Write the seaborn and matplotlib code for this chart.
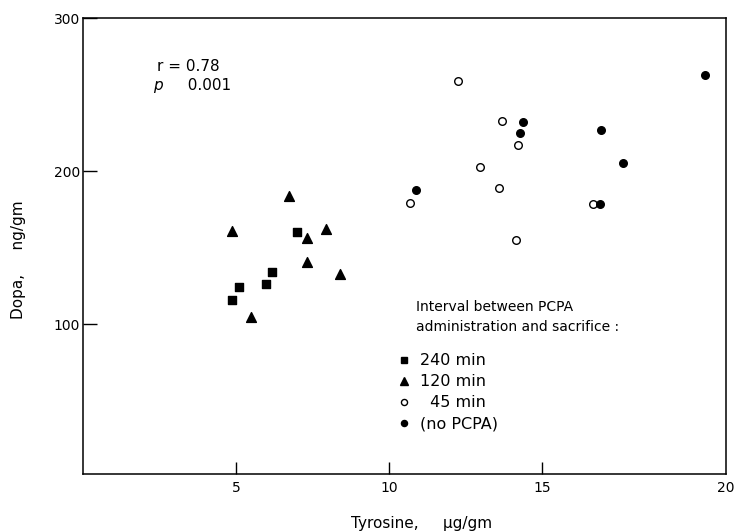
import numpy as np
import pandas as pd
import matplotlib
matplotlib.use("Agg")
import matplotlib.pyplot as plt
import seaborn as sns
from matplotlib.lines import Line2D

# Data (tyrosine ug/gm, dopa ng/gm)
tyr_240 = [6.99, 6.19, 6.00, 5.09, 4.89]
dopa_240 = [160.3, 134.0, 126.1, 124.6, 115.9]

tyr_120 = [6.74, 4.88, 7.31, 7.95, 7.33, 8.41, 5.49]
dopa_120 = [184.1, 161.0, 156.6, 162.3, 140.5, 132.7, 105.0]

tyr_45 = [12.26, 13.71, 14.23, 12.98, 13.58, 10.70, 14.15, 16.67]
dopa_45 = [259.2, 232.9, 217.2, 202.8, 189.3, 179.3, 155.3, 178.4]

tyr_ctrl = [14.39, 14.27, 10.87, 20.34, 16.93, 17.66, 16.91]
dopa_ctrl = [232.4, 224.8, 187.8, 262.7, 227.2, 205.4, 178.4]

groups = ["240 min", "120 min", "\u200745 min", "(no PCPA)"]
x_ticks = [5, 10, 15]
y_ticks = [100, 200, 300]

df = pd.concat([
    pd.DataFrame({"tyrosine": tyr_240, "dopa": dopa_240, "group": groups[0]}),
    pd.DataFrame({"tyrosine": tyr_120, "dopa": dopa_120, "group": groups[1]}),
    pd.DataFrame({"tyrosine": tyr_45, "dopa": dopa_45, "group": groups[2]}),
    pd.DataFrame({"tyrosine": tyr_ctrl, "dopa": dopa_ctrl, "group": groups[3]}),
], ignore_index=True)

# marker, size, face colour per group
styles = {
    groups[0]: ("s", 32, "black"),
    groups[1]: ("^", 50, "black"),
    groups[2]: ("o", 30, "white"),
    groups[3]: ("o", 30, "black"),
}

sns.set_style("white")
plt.rcParams["font.family"] = ["DejaVu Sans"]
plt.rcParams["text.color"] = "black"
plt.rcParams["axes.labelcolor"] = "black"

fig = plt.figure(figsize=(7.34, 5.31), dpi=100)
ax = fig.add_axes([0.1127, 0.1073, 0.876, 0.8582])

for g in groups:
    m, s, fc = styles[g]
    sub = df[df["group"] == g]
    sns.scatterplot(data=sub, x="tyrosine", y="dopa", marker=m, s=s,
                    color=fc, edgecolor="black", linewidth=1.0, ax=ax,
                    legend=False, zorder=3)

ax.set_xlim(0, 21)
ax.set_ylim(2, 300)
ax.set_xticks(x_ticks)
ax.set_xticklabels([str(t) for t in x_ticks])
ax.set_yticks(y_ticks)
ax.set_yticklabels([str(t) for t in y_ticks])
ax.tick_params(axis="x", bottom=True, direction="in", length=8.6, width=1.0,
               pad=5, labelsize=10, colors="black")
ax.tick_params(axis="y", left=True, direction="in", length=10, width=1.0,
               pad=2, labelsize=10, colors="black")
ax.annotate("20", xy=(1, 0), xycoords="axes fraction", xytext=(0, -5),
            textcoords="offset points", ha="center", va="top", fontsize=10)

for sp in ax.spines.values():
    sp.set_visible(True)
    sp.set_color("black")
    sp.set_linewidth(1.1)

ax.set_xlabel("Tyrosine,     \u03bcg/gm", fontsize=11)
ax.set_ylabel("Dopa,     ng/gm", fontsize=11)
ax.xaxis.set_label_coords(0.527, -0.092)
ax.yaxis.set_label_coords(-0.088, 0.47)

# correlation note
ax.text(2.43, 268.8, "r = 0.78", fontsize=11, va="center", ha="left")
ax.text(2.3, 255.8, "p", fontsize=11, va="center", ha="left", style="italic")
ax.text(3.1, 255.8, "  0.001", fontsize=11, va="center", ha="left")

# legend
ax.text(10.89, 104.4, "Interval between PCPA\nadministration and sacrifice :",
        fontsize=10, va="center", ha="left", linespacing=1.55)
handles = []
for g in groups:
    m, s, fc = styles[g]
    handles.append(Line2D([], [], linestyle="none", marker=m,
                          markersize=np.sqrt(s) * 0.8, markerfacecolor=fc,
                          markeredgecolor="black", markeredgewidth=1.0))
leg = ax.legend(handles, groups, loc="upper left", bbox_to_anchor=(0.487, 0.265),
                frameon=False, fontsize=11.5, handlelength=1.0, handletextpad=0.5,
                labelspacing=0.38, borderpad=0, borderaxespad=0)
for t in leg.get_texts():
    t.set_color("black")

fig.savefig("out.png", dpi=100)
